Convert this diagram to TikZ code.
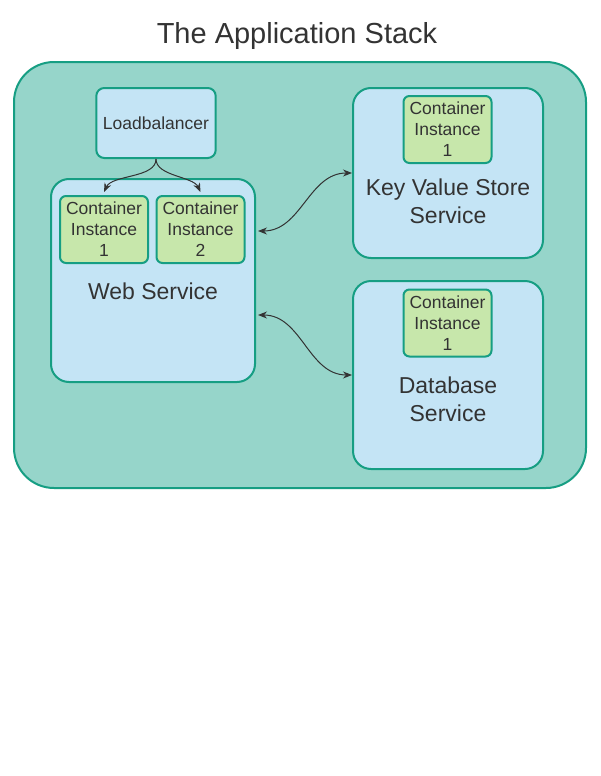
\documentclass[tikz,border=0pt]{standalone}
\usepackage{fontspec}
\setmainfont{Liberation Sans}
\usetikzlibrary{arrows.meta}
\definecolor{stackTeal}{RGB}{150,213,202}
\definecolor{stackEdge}{RGB}{22,158,131}
\definecolor{svcBlue}{RGB}{196,228,245}
\definecolor{ciGreen}{RGB}{199,231,171}
\definecolor{inkGray}{RGB}{51,51,51}

\begin{document}
\begin{tikzpicture}[
    x=0.5pt, y=-0.5pt,
    >={Stealth[length=4.5pt, width=3.5pt]}, text=inkGray,
    stack/.style={rectangle, rounded corners=20pt, draw=stackEdge, fill=stackTeal, line width=1pt, minimum width=286pt, minimum height=213pt},
    service/.style={rectangle, rounded corners=9pt, draw=stackEdge, fill=svcBlue, line width=1pt},
    lbox/.style={rectangle, rounded corners=4pt, draw=stackEdge, fill=svcBlue, line width=1pt, minimum width=59pt, minimum height=35pt, font=\fontsize{8.75}{10.5}\selectfont},
    instance/.style={rectangle, rounded corners=3pt, draw=stackEdge, fill=ciGreen, line width=1pt, minimum width=44pt, minimum height=33.5pt, inner sep=0pt, align=center, font=\fontsize{8.75}{10.5}\selectfont},
    svclabel/.style={align=center, font=\fontsize{11.5}{14}\selectfont},
    link/.style={<->, draw=inkGray, line width=0.5pt}
]
    \useasboundingbox (0,0) rectangle (600,776);

    \node[font=\fontsize{14.5}{17}\selectfont] (title) at (297,36) {The Application Stack};
    \node[stack] (stack) at (300,275) {};

    \node[lbox] (lb) at (156,123) {Loadbalancer};

    \node[service, minimum width=102pt, minimum height=101.5pt] (web) at (153,280.5) {};
    \node[instance] (web_ci1) at (104,229.5) {Container\\Instance\\1};
    \node[instance] (web_ci2) at (200.5,229.5) {Container\\Instance\\2};
    \node[svclabel] (web_label) at (153,291) {Web Service};

    \node[service, minimum width=95pt, minimum height=85pt] (kv) at (448,173) {};
    \node[instance] (kv_ci) at (447.5,129.5) {Container\\Instance\\1};
    \node[svclabel] (kv_label) at (448,201) {Key Value Store\\Service};

    \node[service, minimum width=95pt, minimum height=94pt] (db) at (448,375) {};
    \node[instance] (db_ci) at (447.5,323) {Container\\Instance\\1};
    \node[svclabel] (db_label) at (448,399) {Database\\Service};

    \draw[->, draw=inkGray, line width=0.5pt] (lb.south) to[out=-90, in=65, looseness=0.8] ([yshift=1.5pt]web_ci1.north);
    \draw[->, draw=inkGray, line width=0.5pt] (lb.south) to[out=-90, in=115, looseness=0.8] ([yshift=1.5pt]web_ci2.north);
    \draw[link] ([xshift=1pt, yshift=24.75pt]web.east) to[out=0, in=180] (kv.west);
    \draw[link] ([xshift=1pt, yshift=-17.25pt]web.east) to[out=0, in=180] (db.west);
\end{tikzpicture}
\end{document}
